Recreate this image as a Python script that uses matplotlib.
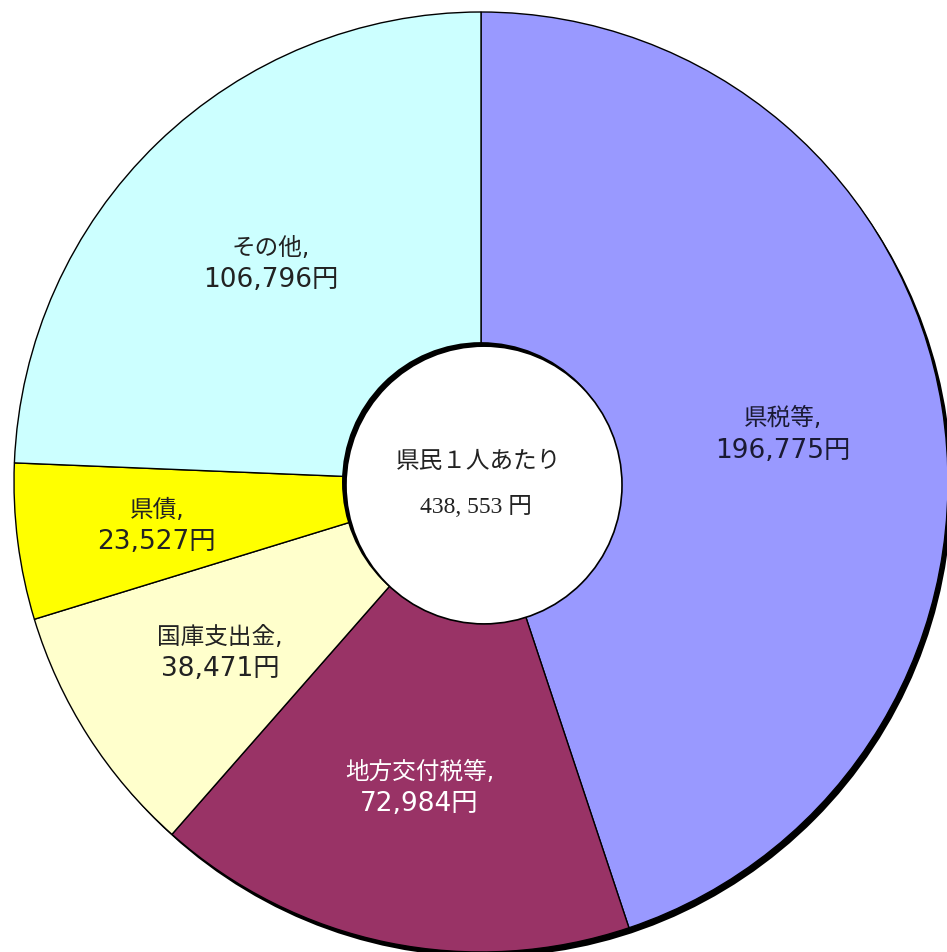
import numpy as np
import matplotlib
matplotlib.use('Agg')
import matplotlib.pyplot as plt
from matplotlib.patches import Circle

# data
items = ['県税等', '地方交付税等', '国庫支出金', '県債', 'その他']
values = [196775, 72984, 38471, 23527, 106796]
colors = ['#9999FF', '#993366', '#FFFFCC', '#FFFF00', '#CCFFFF']
text_colors = ['#1a1a33', '#ffffff', '#222222', '#222222', '#222222']
label_r = [0.655, 0.66, 0.665, 0.70, 0.65]
center_title = '県民１人あたり'
total_text = '438, 553 円'

W, H = 947, 953
fig = plt.figure(figsize=(W / 100, H / 100), dpi=100)
ax = fig.add_axes([0, 0, 1, 1])

# the picture is a little taller than wide
sy = 470 / 467
cx, cy = 481, (H - 483) / sy
r = 467

# drop shadow of the pie
ax.add_patch(Circle((cx + 4, cy - 5), r, facecolor='black', edgecolor='none', zorder=0))

wedges, _ = ax.pie(values, colors=colors, startangle=90, counterclock=False,
                   center=(cx, cy), radius=r,
                   wedgeprops=dict(edgecolor='black', linewidth=1.0))
for w in wedges:
    w.set_zorder(1)

name_font = ['DejaVu Sans', 'Noto Sans CJK JP']
for w, name, v, tc, lr in zip(wedges, items, values, text_colors, label_r):
    ang = np.deg2rad((w.theta1 + w.theta2) / 2)
    x = cx + lr * r * np.cos(ang)
    y = cy + lr * r * np.sin(ang)
    ax.text(x, y + 15, f'{name},', ha='center', va='center', color=tc,
            fontsize=17, family=name_font, zorder=5)
    ax.text(x, y - 17, f'{v:,}円', ha='center', va='center', color=tc,
            fontsize=19, family=name_font, zorder=5)

# hole with inner shadow
ax.add_patch(Circle((cx, cy), 139, facecolor='black', edgecolor='none', zorder=3))
ax.add_patch(Circle((cx + 3, cy - 3), 138, facecolor='white', edgecolor='black',
                    linewidth=1.2, zorder=4))

ctr_font = ['Liberation Serif', 'Noto Sans CJK JP']
ax.text(cx - 2, (H - 462) / sy, center_title, ha='center', va='center', fontsize=17,
        family=ctr_font, color='#222222', zorder=5)
ax.text(cx - 5, (H - 507) / sy, total_text, ha='center', va='center', fontsize=17,
        family=ctr_font, color='#222222', zorder=5)

ax.set_xlim(0, W)
ax.set_ylim(0, H / sy)
ax.set_aspect('auto')
ax.axis('off')

fig.savefig('out.png', dpi=100, facecolor='white')
